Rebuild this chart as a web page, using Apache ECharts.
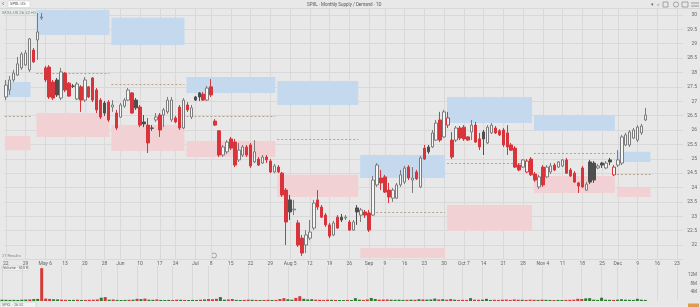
<!DOCTYPE html>
<html><head><meta charset="utf-8">
<script src="https://cdn.jsdelivr.net/npm/echarts@6.0.0/dist/echarts.min.js"></script>
<style>html,body{margin:0;padding:0;background:#e8e8e8;overflow:hidden}#c{width:700px;height:307px}</style>
</head><body><div id="c"></div>
<script>
// ---------- DATA ----------
const startDate = '2024-04-22';
const holidays = ['2024-05-27','2024-06-19','2024-07-04','2024-09-02','2024-11-28','2024-12-25'];
const dayCount = 172;

const opens = [27.15,27.39,27.74,27.91,28.16,28.26,28.09,28.78,29.13,29.90,
28.16,28.19,27.67,27.74,27.11,27.98,27.63,27.53,27.08,27.50,
27.04,27.50,27.81,27.39,27.04,26.94,26.97,26.80,26.59,26.45,
26.83,27.04,27.29,27.04,26.80,26.28,26.17,26.07,26.35,26.52,
26.52,26.63,26.35,26.42,26.80,26.07,26.87,26.45,27.15,27.29,
27.25,27.04,27.50,26.31,25.97,25.13,25.24,25.69,25.58,24.96,
25.13,25.41,25.48,24.89,24.99,24.85,25.06,24.92,24.54,24.71,
24.50,23.91,23.57,23.22,22.77,22.24,22.00,22.24,22.59,23.57,
23.32,23.04,22.70,22.35,22.97,22.97,22.94,22.80,22.52,23.29,
23.04,23.15,23.11,23.04,24.09,24.33,24.37,23.91,23.63,23.63,
24.09,24.19,24.71,24.26,24.54,24.02,25.37,25.41,25.41,25.65,
26.35,25.76,26.17,25.65,25.65,26.07,26.10,25.76,25.93,26.17,
25.69,25.93,25.55,25.90,26.07,25.97,26.00,25.90,25.48,25.37,
24.78,24.71,24.54,24.99,24.47,24.02,24.71,24.37,24.54,24.78,
24.71,24.75,24.96,24.61,24.50,24.16,24.68,23.91,24.89,24.85,
24.68,24.85,24.68,24.96,24.44,24.78,24.85,25.48,25.48,25.72,
25.65,25.90,26.35];
const closes = [27.56,27.74,27.98,28.30,28.64,28.68,29.17,28.37,29.41,29.93,
27.74,27.15,27.11,27.22,28.02,27.39,27.18,27.52,27.60,27.04,
27.74,27.15,27.04,26.70,26.45,26.59,26.35,26.87,26.07,26.87,
27.04,27.39,26.59,26.77,26.17,26.21,25.55,26.06,26.45,26.00,
26.70,27.04,27.04,26.28,26.07,27.04,26.70,26.77,27.04,27.15,
27.04,27.46,27.22,26.17,25.13,25.41,25.58,25.37,24.78,25.30,
25.41,25.13,24.75,25.24,24.78,25.06,24.96,24.54,24.75,24.54,
23.74,22.80,23.15,23.25,22.00,21.72,22.35,22.45,23.46,23.32,
22.97,22.70,22.31,22.77,22.59,22.87,22.97,22.52,22.80,23.15,
23.22,23.04,22.52,24.26,24.78,24.16,23.84,23.67,23.91,24.09,
24.44,24.68,24.33,24.33,24.30,25.03,24.99,25.24,25.90,26.24,
25.65,26.63,26.42,25.06,26.07,25.72,25.69,25.65,26.17,25.58,
25.41,25.69,26.10,26.17,25.90,25.83,25.48,25.41,25.30,24.71,
24.61,24.96,24.92,24.44,24.26,24.37,24.09,24.71,24.75,24.61,
24.89,24.96,24.50,24.40,24.19,24.05,24.02,24.12,24.19,24.26,
24.75,24.78,24.85,24.89,24.71,24.96,25.76,25.83,25.93,26.00,
26.10,26.14,26.52];
const lows = [27.04,27.22,27.67,27.88,28.09,28.23,28.02,28.33,28.44,29.83,
27.67,27.08,27.04,27.15,27.04,27.32,27.15,27.46,27.04,26.63,
26.97,27.11,26.97,26.59,26.38,26.49,26.28,26.63,26.00,26.42,
26.77,27.01,26.56,26.70,26.10,26.10,25.20,25.97,26.28,25.76,
26.10,26.56,26.28,26.24,26.00,26.03,26.63,26.38,27.01,27.01,
27.01,27.01,27.15,26.14,25.06,25.06,25.17,25.30,24.71,24.89,
25.06,25.06,24.68,24.85,24.75,24.82,24.85,24.50,24.50,24.50,
23.67,22.00,22.87,23.04,21.93,21.62,21.72,22.17,22.52,23.22,
22.94,22.63,22.24,22.31,22.56,22.80,22.87,22.49,22.49,22.70,
22.80,22.94,22.45,23.01,24.02,23.91,23.81,23.46,23.50,23.60,
24.02,24.12,24.26,23.81,24.26,23.98,24.96,25.17,25.37,25.62,
25.58,25.72,26.07,24.99,25.58,25.65,25.62,25.62,25.65,25.55,
25.30,25.13,25.51,25.86,25.86,25.79,25.41,25.13,25.27,24.68,
24.57,24.68,24.50,24.40,24.19,23.95,24.02,24.33,24.47,24.57,
24.68,24.71,24.47,24.37,24.16,23.81,23.98,23.88,24.12,24.16,
24.64,24.68,24.64,24.78,24.40,24.71,24.78,25.44,25.41,25.69,
25.58,25.83,26.31];
const highs = [27.74,27.88,28.09,28.54,28.71,28.78,29.20,28.85,30.07,30.07,
28.23,28.26,27.74,27.81,28.16,28.02,27.67,27.60,27.67,27.56,
27.84,27.53,27.84,27.46,27.11,27.01,27.04,27.04,26.70,26.94,
27.11,27.46,27.32,27.11,26.87,26.52,26.42,26.17,26.59,26.59,
26.77,27.15,27.15,26.49,26.87,27.11,26.97,26.87,27.18,27.32,
27.32,27.53,27.77,26.38,26.00,25.48,25.65,25.76,25.69,25.55,
25.48,25.48,25.55,25.65,25.06,25.13,25.13,24.99,24.82,24.78,
24.54,23.98,23.74,23.57,22.87,22.35,22.52,22.87,23.57,23.91,
23.39,23.11,22.77,22.84,23.04,23.08,23.04,22.87,22.87,23.39,
23.29,23.22,23.22,24.40,24.85,24.61,24.44,24.16,23.98,24.16,
24.61,24.75,24.78,24.71,24.61,25.10,25.48,25.48,26.00,26.35,
26.63,26.70,26.63,25.93,26.14,26.14,26.17,25.79,26.35,26.28,
25.90,26.00,26.17,26.24,26.14,26.03,26.07,26.17,25.55,25.44,
24.85,24.99,24.99,25.06,24.54,24.44,24.78,24.78,24.85,24.85,
24.92,24.99,25.03,24.68,24.57,24.19,24.75,24.19,24.96,24.92,
24.82,24.89,24.92,25.03,24.78,25.30,25.83,25.90,26.00,26.07,
26.17,26.21,26.77];
const volumes = [600,550,500,520,480,600,650,700,900,950,
15000,1100,950,800,750,600,550,500,520,600,
480,500,550,600,700,1500,1800,600,700,500,
450,500,550,600,1000,900,1100,600,550,700,
500,450,500,480,600,550,500,450,500,480,
600,700,900,800,1000,1800,600,700,900,500,
450,500,600,550,500,450,500,550,480,500,
900,1300,800,600,1400,2200,1000,700,800,600,
550,500,600,550,500,450,420,500,450,1300,
600,500,700,1400,900,600,650,700,600,550,
600,500,550,600,550,800,700,650,700,1100,
700,800,600,900,600,500,550,500,1300,600,
550,600,1000,500,550,500,600,650,500,700,
600,550,500,600,550,500,600,550,500,450,
500,450,500,550,600,1000,900,1200,1300,600,
500,1500,600,550,500,600,800,600,550,500,
1000,600,500];

const tickDates = ['2024-04-22','2024-04-29','2024-05-06','2024-05-13','2024-05-20','2024-05-28','2024-06-03','2024-06-10','2024-06-17','2024-06-24','2024-07-01','2024-07-08','2024-07-15','2024-07-22','2024-07-29','2024-08-05','2024-08-12','2024-08-19','2024-08-26','2024-09-03','2024-09-09','2024-09-16','2024-09-23','2024-09-30','2024-10-07','2024-10-14','2024-10-21','2024-10-28','2024-11-04','2024-11-11','2024-11-18','2024-11-25','2024-12-02','2024-12-09','2024-12-16','2024-12-23'];
const tickLabels = ['22','29','May 6','13','20','28','Jun','10','17','24','Jul','8','15','22','29','Aug 5','12','19','26','Sep','9','16','23','30','Oct 7','14','21','28','Nov 4','11','18','25','Dec','9','16','23'];

const zoneFrom = ['2024-04-22','2024-05-02','2024-05-30','2024-06-27','2024-07-31','2024-08-29','2024-10-01','2024-10-31','2024-12-02'];
const zoneTo   = ['2024-04-30','2024-05-29','2024-06-26','2024-07-30','2024-08-28','2024-09-30','2024-10-30','2024-11-29','2024-12-12'];
const supplyTop    = [27.67,30.17,29.90,27.84,27.70,25.13,27.15,26.52,25.24];
const supplyBottom = [27.15,29.30,28.96,27.29,26.87,24.33,26.24,25.97,24.89];
const demandTop    = [25.79,26.59,26.17,25.62,24.44,21.90,23.39,24.40,23.98];
const demandBottom = [25.30,25.76,25.27,25.06,23.67,21.55,22.49,23.81,23.67];
const pivots       = [26.49,27.98,27.60,26.49,25.69,23.15,24.85,25.20,24.47];

const priceMin = 21.5, priceMax = 30.25, priceStep = 0.5;
const volMax = 16000;

// ---------- BUILD ----------
function buildDates(){
  const out=[]; const d=new Date(startDate+'T00:00:00Z');
  while(out.length<dayCount){
    const s=d.toISOString().slice(0,10); const wd=d.getUTCDay();
    if(wd!==0 && wd!==6 && holidays.indexOf(s)<0) out.push(s);
    d.setUTCDate(d.getUTCDate()+1);
  }
  return out;
}
const dates = buildDates();
const tickIdx = new Set(tickDates.map(t=>dates.indexOf(t)));
const tickMap = {}; tickDates.forEach((t,i)=>tickMap[t]=tickLabels[i]);

const RED='#d7353b', HOLLOW='#f6f6f6', GRAY='#7c7c7c', DARK='#4e4e4e';
const candles = opens.map((o,i)=>{
  const c=closes[i], prev = i>0?closes[i-1]:o;
  const down = c<prev, filled = c<o;
  let fill, border;
  if(!down && !filled){fill=HOLLOW;border=GRAY;}
  else if(!down && filled){fill=DARK;border=DARK;}
  else if(down && filled){fill=RED;border=RED;}
  else {fill=HOLLOW;border=RED;}
  return {value:[o,c,lows[i],highs[i]], itemStyle:{color:fill,color0:fill,borderColor:border,borderColor0:border}};
});
const volData = volumes.map((v,i)=>{
  const prev = i>0?closes[i-1]:opens[i];
  return {value:v, itemStyle:{color: closes[i]>=prev ? '#2f7a33' : '#d33a3a'}};
});
const zoneRects = [], pivotLines = [];
zoneFrom.forEach((f,k)=>{
  const a=dates.indexOf(f), b=dates.indexOf(zoneTo[k]);
  zoneRects.push([a,b,supplyTop[k],supplyBottom[k],0]);
  zoneRects.push([a,b,demandTop[k],demandBottom[k],1]);
  pivotLines.push([a,b,pivots[k]]);
});

const FONT='Roboto';
const chart = echarts.init(document.getElementById('c'), null, {renderer:'canvas', width:700, height:307});
const gridL=-1, gridW=684.6;
chart.setOption({
  animation:false,
  backgroundColor:'#e8e8e8',
  textStyle:{fontFamily:FONT},
  grid:[
    {left:gridL, width:gridW, top:7.8, height:251.6},
    {left:gridL, width:gridW, top:266, height:35}
  ],
  xAxis:[
    {type:'category', gridIndex:0, data:dates, boundaryGap:true,
     axisLine:{show:false}, axisTick:{show:false},
     axisLabel:{interval:(i)=>tickIdx.has(i), formatter:(v)=>tickMap[v]||'', fontSize:5, color:'#666', margin:2, fontFamily:FONT},
     splitLine:{show:true, interval:(i)=>tickIdx.has(i), alignWithLabel:true, lineStyle:{color:'#d9d9d9', width:1}}},
    {type:'category', gridIndex:1, data:dates, boundaryGap:true,
     axisLine:{show:false}, axisTick:{show:false}, axisLabel:{show:false},
     splitLine:{show:true, interval:(i)=>tickIdx.has(i), alignWithLabel:true, lineStyle:{color:'#d9d9d9', width:1}}}
  ],
  yAxis:[
    {type:'value', gridIndex:0, position:'right', min:priceMin, max:priceMax, interval:priceStep, scale:true,
     axisLine:{show:false}, axisTick:{show:false},
     splitLine:{show:true, lineStyle:{color:'#d9d9d9', width:1}},
     axisLabel:{fontSize:5, color:'#666', align:'right', margin:14, showMinLabel:false, showMaxLabel:false, fontFamily:FONT,
       formatter:(v)=> (Math.abs(v*2-Math.round(v*2))>1e-6)?'':(v%1===0?String(v):v.toFixed(1))}},
    {type:'value', gridIndex:1, position:'right', min:0, max:volMax, interval:4000,
     axisLine:{show:false}, axisTick:{show:false}, splitLine:{show:false},
     axisLabel:{fontSize:4.5, color:'#666', align:'right', margin:14, showMinLabel:false, showMaxLabel:false, fontFamily:FONT,
       formatter:(v)=> (v/1000)+'M'}}
  ],
  series:[
    {type:'custom', xAxisIndex:0, yAxisIndex:0, silent:true, clip:true, z:1,
     encode:{x:[0,1], y:[2,3]},
     renderItem:(params, api)=>{
       const bw=api.size([1,0])[0];
       const p0=api.coord([api.value(0), api.value(2)]);
       const p1=api.coord([api.value(1), api.value(3)]);
       const x0=p0[0]-bw/2+1, x1=p1[0]+bw/2-1;
       return {type:'rect', shape:{x:x0, y:p0[1], width:x1-x0, height:p1[1]-p0[1]},
         style:{fill: api.value(4)===0 ? '#c4d8ee' : '#f1d1d3'}};
     },
     data: zoneRects},
    {type:'custom', xAxisIndex:0, yAxisIndex:0, silent:true, clip:true, z:2,
     encode:{x:[0,1], y:[2]},
     renderItem:(params, api)=>{
       const bw=api.size([1,0])[0];
       const p0=api.coord([api.value(0), api.value(2)]);
       const p1=api.coord([api.value(1), api.value(2)]);
       return {type:'line', shape:{x1:p0[0]-bw/2+1, y1:Math.round(p0[1])+0.5, x2:p1[0]+bw/2-1, y2:Math.round(p0[1])+0.5},
         style:{stroke:'#a8927a', lineWidth:0.8, lineDash:[2,2]}};
     },
     data: pivotLines},
    {type:'candlestick', xAxisIndex:0, yAxisIndex:0, barWidth:3, z:3,
     data:candles,
     markLine:{silent:true, symbol:['none','none'], animation:false,
       data:[
        {yAxis: closes[closes.length-1], lineStyle:{opacity:0},
         label:{show:true, position:'end', distance:3, formatter:(p)=>p.value.toFixed(2), fontSize:4.5, color:'#fff', backgroundColor:'#4caf50', padding:[1,2,1,2], borderRadius:1}},
        {yAxis: pivots[pivots.length-1], lineStyle:{opacity:0},
         label:{show:true, position:'end', distance:3, formatter:(p)=>p.value.toFixed(2), fontSize:4.5, color:'#333', backgroundColor:'#e2c24a', padding:[1,2,1,2], borderRadius:1}}
       ]}},
    {type:'bar', xAxisIndex:1, yAxisIndex:1, barWidth:3, data:volData,
     markLine:{silent:true, symbol:['none','none'], animation:false,
       data:[{yAxis: volumes[volumes.length-1], lineStyle:{opacity:0},
         label:{show:true, position:'end', distance:3, formatter:(p)=>Math.round(p.value)+'K', fontSize:4, color:'#fff', backgroundColor:'#3f9b47', padding:[1,2,1,2], borderRadius:1}}]}}
  ],
  graphic:[
    {type:'line', shape:{x1:0,y1:8.5,x2:700,y2:8.5}, style:{stroke:'#d4d4d4', lineWidth:1}, silent:true},
    {type:'text', x:2, y:1, style:{text:'‹', fontSize:7, fill:'#555', fontFamily:FONT}},
    {type:'rect', shape:{x:8, y:1, width:22, height:6.5}, style:{fill:'#ffffff', stroke:'#cfcfcf', lineWidth:0.5}},
    {type:'text', x:10, y:2.3, style:{text:'SPXL.US', fontSize:4, fill:'#444', fontFamily:FONT}},
    {type:'text', x:307, y:2, style:{text:'SPXL · Monthly Supply / Demand · 1D', fontSize:4.5, fill:'#555', fontFamily:FONT}},
    {type:'text', x:2, y:10.5, style:{text:'SPXL.US 26.52 +0.38 (1.45%)', fontSize:4.2, fill:'#5d8f63', fontFamily:FONT}},
    {type:'text', x:2, y:253.5, style:{text:'27 Results', fontSize:4, fill:'#888', fontFamily:FONT}},
    {type:'circle', shape:{cx:214, cy:255.5, r:2.5}, style:{fill:'none', stroke:'#888', lineWidth:0.7}},
    {type:'rect', shape:{x:2, y:266, width:26, height:4.5}, style:{fill:'#f2f2f2', stroke:'#cfcfcf', lineWidth:0.5}},
    {type:'text', x:3, y:266.3, style:{text:'Volume · 500 K', fontSize:3.8, fill:'#555', fontFamily:FONT}},
    {type:'rect', shape:{x:0, y:302, width:36, height:6}, style:{fill:'#f2f2f2', stroke:'#b9d6b9', lineWidth:0.6}},
    {type:'text', x:2, y:302.8, style:{text:'SPXL · 26.52', fontSize:3.8, fill:'#666', fontFamily:FONT}},
    {type:'rect', shape:{x:688, y:303.5, width:11, height:5}, style:{fill:'#e39a4c'}},
    {type:'rect', shape:{x:663, y:2, width:5, height:5}, style:{fill:'none', stroke:'#777', lineWidth:0.6}},
    {type:'circle', shape:{cx:676, cy:4.5, r:2.6}, style:{fill:'none', stroke:'#777', lineWidth:0.6}},
    {type:'rect', shape:{x:682, y:2, width:6, height:5}, style:{fill:'none', stroke:'#777', lineWidth:0.6}},
    {type:'line', shape:{x1:691,y1:3,x2:699,y2:3}, style:{stroke:'#777', lineWidth:0.7}},
    {type:'line', shape:{x1:691,y1:6,x2:699,y2:6}, style:{stroke:'#777', lineWidth:0.7}},
    {type:'text', x:651, y:2, style:{text:'▾  ⌕', fontSize:5, fill:'#666', fontFamily:'DejaVu Sans'}}
  ]
});
</script></body></html>
